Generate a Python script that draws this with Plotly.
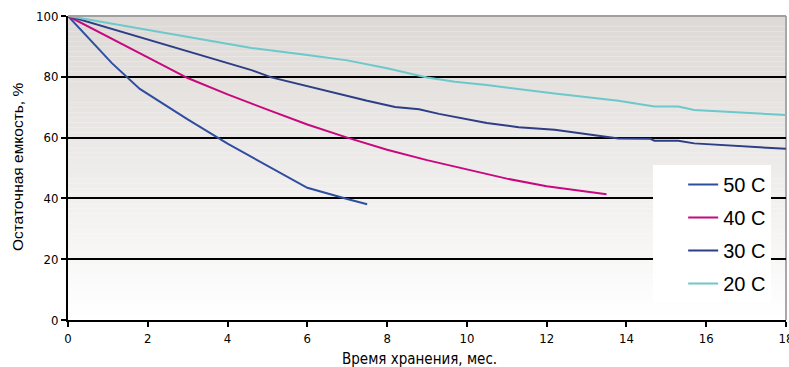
import plotly.graph_objects as go

# Storage time, months, and residual capacity, % for each temperature
months_50 = [0, 1.1, 1.8, 3, 4, 5, 6, 7, 7.5]
cap_50 = [100, 84.5, 76, 66, 58, 50.7, 43.5, 39.8, 38.1]

months_40 = [0, 1, 2, 3, 4, 5, 6, 7, 8, 9, 10, 11, 12, 13, 13.5]
cap_40 = [100, 93.1, 86.4, 79.6, 74.2, 69.2, 64.3, 60, 56, 52.6, 49.5, 46.5, 44, 42.4, 41.4]

months_30 = [0, 4.6, 5.1, 6, 7.5, 8.2, 8.8, 9.3, 10.5, 11.3, 12.2, 13.3, 13.8, 14.6, 14.7, 15.3, 15.7, 18]
cap_30 = [100, 82.2, 79.8, 76.9, 72.1, 70.1, 69.3, 67.8, 64.8, 63.4, 62.6, 60.6, 59.7, 59.6, 59.0, 59.0, 58.1, 56.3]

months_20 = [0, 4.6, 6, 7, 8, 9, 9.7, 10.5, 12.2, 13.3, 13.8, 14.7, 15.3, 15.7, 18]
cap_20 = [100, 89.5, 87.2, 85.4, 82.8, 79.8, 78.4, 77.3, 74.5, 72.9, 72.1, 70.2, 70.2, 69.1, 67.4]

series_names = ["50 C", "40 C", "30 C", "20 C"]
series_colors = ["#2F4EA0", "#C8087E", "#2D3D86", "#6CC8CA"]
series_x = [months_50, months_40, months_30, months_20]
series_y = [cap_50, cap_40, cap_30, cap_20]

x_ticks = [0, 2, 4, 6, 8, 10, 12, 14, 16, 18]
y_ticks = [0, 20, 40, 60, 80, 100]

fig = go.Figure()
for name, color, xs, ys in zip(series_names, series_colors, series_x, series_y):
    fig.add_trace(go.Scatter(
        x=xs, y=ys, name=name, mode="lines", legendgroup=name,
        line=dict(color=color, width=2),
    ))

# Vertical grey-to-white gradient behind the plot area
shapes = []
n_bands = 60
top_rgb = (221, 217, 214)
bot_rgb = (255, 255, 255)
for i in range(n_bands):
    t = i / (n_bands - 1)
    c = tuple(round(bot_rgb[k] + (top_rgb[k] - bot_rgb[k]) * t) for k in range(3))
    shapes.append(dict(
        type="rect", xref="x domain", yref="y domain",
        x0=0, x1=1, y0=i / n_bands, y1=(i + 1) / n_bands,
        fillcolor=f"rgb{c}", line=dict(width=0), layer="below",
    ))
# Grey frame on top and right sides
shapes.append(dict(type="line", xref="x domain", yref="y domain", x0=0, x1=1, y0=1, y1=1,
                   line=dict(color="#A0A0A0", width=2), layer="above"))
shapes.append(dict(type="line", xref="x domain", yref="y domain", x0=1, x1=1, y0=0, y1=1,
                   line=dict(color="#A8A8A8", width=2), layer="below"))

tick_font = dict(family="DejaVu Sans Condensed", size=13, color="black")

fig.update_layout(
    width=789, height=367,
    margin=dict(l=68, r=3, t=16, b=47),
    paper_bgcolor="white",
    plot_bgcolor="rgba(0,0,0,0)",
    shapes=shapes,
    showlegend=True,
    legend=dict(
        x=0.815, y=0.51, xanchor="left", yanchor="top",
        bgcolor="white", borderwidth=0,
        font=dict(family="Liberation Sans, Arial", size=20, color="black"),
        tracegroupgap=4,
        indentation=30,
        entrywidth=48,
    ),
    xaxis=dict(
        range=[0, 18], tickvals=x_ticks, ticktext=[str(v) for v in x_ticks],
        showgrid=False, zeroline=False, automargin=False,
        showline=True, linecolor="black", linewidth=2,
        ticks="outside", ticklen=5, tickwidth=2, tickcolor="black",
        tickfont=tick_font, ticklabeloverflow="allow",
    ),
    yaxis=dict(
        range=[0, 100], tickvals=y_ticks, ticktext=[str(v) for v in y_ticks],
        showgrid=True, gridcolor="black", gridwidth=2, zeroline=False, automargin=False,
        showline=True, linecolor="black", linewidth=2,
        ticks="outside", ticklen=5, tickwidth=2, tickcolor="black",
        tickfont=tick_font,
    ),
    annotations=[
        dict(text="Время хранения, мес.", xref="paper", yref="paper",
             x=0.489, y=-0.128, xanchor="center", yanchor="middle", showarrow=False,
             font=dict(family="DejaVu Sans Condensed", size=15, color="black")),
        dict(text="Остаточная емкость, %", xref="paper", yref="paper",
             x=-0.071, y=0.503, xanchor="center", yanchor="middle", showarrow=False,
             textangle=-90, font=dict(family="Liberation Sans, Arial", size=15.5, color="black")),
    ],
)

fig.write_html("out.html")
